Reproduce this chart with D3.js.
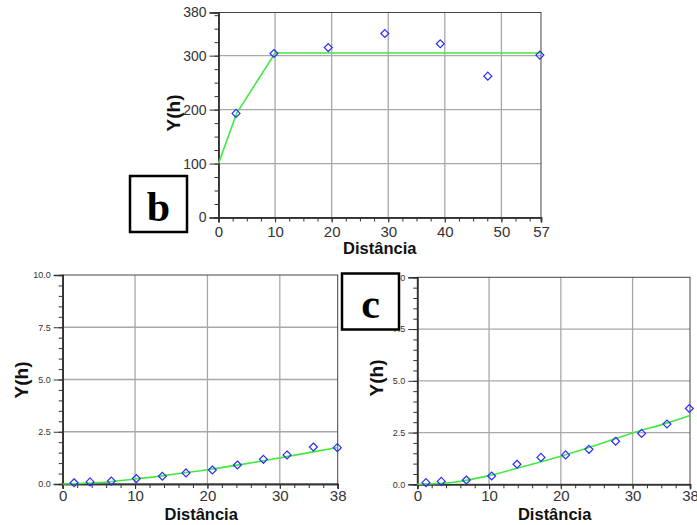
<!DOCTYPE html>
<html>
<head>
<meta charset="utf-8">
<script src="https://cdn.jsdelivr.net/npm/d3@7"></script>
<style>
  body { margin: 0; background: #fff; }
  svg { display: block; }
  .tick text { fill: #333; font-family: Arial, "Liberation Sans", sans-serif; }
</style>
</head>
<body>
<div id="chart"></div>
<script>
// panel b (top)
const distB = [3.1, 9.8, 19.4, 29.4, 39.2, 47.6, 56.8]
const gammaB = [193, 304, 315, 341, 322, 262, 301]
const modelDistB = [0, 3.2, 10, 57]
const modelGammaB = [100, 193, 305, 305]
const xTicksB = [0, 10, 20, 30, 40, 50, 57]
const yTicksB = [0, 100, 200, 300, 380]

// bottom left panel
const distL = [1.57, 3.78, 6.72, 10.18, 13.77, 17.04, 20.68, 24.14, 27.73, 31.0, 34.64, 37.95]
const gammaL = [0.06, 0.10, 0.14, 0.26, 0.37, 0.53, 0.67, 0.91, 1.18, 1.39, 1.77, 1.74]
const modelDistL = [0, 5, 10, 15, 20, 25, 30, 35, 38]
const modelGammaL = [0, 0.07, 0.24, 0.45, 0.68, 0.95, 1.25, 1.56, 1.75]

// bottom right panel (c)
const distC = [1.21, 3.34, 6.83, 10.36, 13.89, 17.23, 20.67, 23.92, 27.64, 31.26, 34.79, 37.91]
const gammaC = [0.08, 0.14, 0.21, 0.40, 0.97, 1.30, 1.42, 1.69, 2.08, 2.46, 2.91, 3.66]
const modelDistC = [0, 5, 10, 15, 20, 25, 30, 35, 38]
const modelGammaC = [0, 0.1, 0.42, 0.88, 1.36, 1.9, 2.48, 2.98, 3.32]

const xTicksBottom = [0, 10, 20, 30, 38]
const yTicksBottom = [0, 2.5, 5, 7.5, 10]

const width = 697
const height = 525

const svg = d3.select('#chart')
  .append('svg')
  .attr('width', width)
  .attr('height', height)

function drawPanel(p) {
  const x = d3.scaleLinear().domain(p.xDomain).range([p.left, p.right])
  const y = d3.scaleLinear().domain(p.yDomain).range([p.bottom, p.top])
  const g = svg.append('g')

  // grid lines
  g.selectAll('.vgrid')
    .data(p.xTicks.filter(d => d > p.xDomain[0] && d < p.xDomain[1]))
    .enter().append('line')
    .attr('x1', d => x(d)).attr('x2', d => x(d))
    .attr('y1', p.top).attr('y2', p.bottom)
    .attr('stroke', '#a8a8a8').attr('stroke-width', 1.3)
  g.selectAll('.hgrid')
    .data(p.yTicks.filter(d => d > p.yDomain[0] && d < p.yDomain[1]))
    .enter().append('line')
    .attr('x1', p.left).attr('x2', p.right)
    .attr('y1', d => y(d)).attr('y2', d => y(d))
    .attr('stroke', '#a8a8a8').attr('stroke-width', 1.3)

  // frame
  g.append('rect')
    .attr('x', p.left).attr('y', p.top)
    .attr('width', p.right - p.left).attr('height', p.bottom - p.top)
    .attr('fill', 'none').attr('stroke', '#444').attr('stroke-width', 1)

  // minor ticks
  g.append('g')
    .attr('transform', 'translate(0,' + p.bottom + ')')
    .call(d3.axisBottom(x).tickValues(d3.range(p.xDomain[0], p.xDomain[1], p.xMinor)).tickSize(4).tickFormat(''))
  g.append('g')
    .attr('transform', 'translate(' + p.left + ',0)')
    .call(d3.axisLeft(y).tickValues(d3.range(p.yDomain[0], p.yDomain[1], p.yMinor)).tickSize(4).tickFormat(''))

  // major ticks
  const xAxis = g.append('g')
    .attr('transform', 'translate(0,' + p.bottom + ')')
    .call(d3.axisBottom(x).tickValues(p.xTicks).tickSize(5).tickPadding(p.xPad).tickFormat(d3.format('d')))
  xAxis.selectAll('text').style('font-size', p.xFont + 'px')

  const yAxis = g.append('g')
    .attr('transform', 'translate(' + p.left + ',0)')
    .call(d3.axisLeft(y).tickValues(p.yTicks).tickSize(9).tickPadding(3).tickFormat(p.yFormat))
  yAxis.selectAll('text').style('font-size', p.yFont + 'px')

  g.selectAll('.domain').attr('stroke', '#333').attr('stroke-width', 1.5)
  g.selectAll('.tick line').attr('stroke', '#333')

  // model curve
  const line = d3.line()
    .x(d => x(d[0]))
    .y(d => y(d[1]))
    .curve(p.curve)
  g.append('path')
    .datum(p.modelX.map((d, i) => [d, p.modelY[i]]))
    .attr('d', line)
    .attr('fill', 'none')
    .attr('stroke', '#44e844')
    .attr('stroke-width', 1.6)

  // experimental points as diamonds
  g.selectAll('.pt')
    .data(p.ptX.map((d, i) => [d, p.ptY[i]]))
    .enter().append('path')
    .attr('d', d3.symbol().type(d3.symbolDiamond2).size(40))
    .attr('transform', d => 'translate(' + x(d[0]) + ',' + y(d[1]) + ')')
    .attr('fill', 'none')
    .attr('stroke', '#2b2bff')
    .attr('stroke-width', 1.2)

  // axis titles
  g.append('text')
    .attr('x', (p.left + p.right) / 2 + p.xTitleDx)
    .attr('y', p.xTitleY)
    .attr('text-anchor', 'middle')
    .attr('font-family', 'Arial, "Liberation Sans", sans-serif')
    .attr('font-weight', 'bold')
    .attr('font-size', 16.5)
    .attr('fill', '#111')
    .text('Distância')

  g.append('text')
    .attr('transform', 'translate(' + p.yTitleX + ',' + p.yTitleY + ') rotate(-90)')
    .attr('text-anchor', 'middle')
    .attr('dominant-baseline', 'central')
    .attr('font-family', 'Arial, "Liberation Sans", sans-serif')
    .attr('font-weight', 'bold')
    .attr('font-size', 19)
    .attr('fill', '#111')
    .text('Y(h)')
}

function labelBox(x0, y0, w, h, letter, baseline) {
  svg.append('rect')
    .attr('x', x0).attr('y', y0)
    .attr('width', w).attr('height', h)
    .attr('fill', '#fff').attr('stroke', '#000').attr('stroke-width', 2.5)
  svg.append('text')
    .attr('x', x0 + w / 2).attr('y', baseline)
    .attr('text-anchor', 'middle')
    .attr('font-family', '"Liberation Serif", "Times New Roman", serif')
    .attr('font-weight', 'bold')
    .attr('font-size', 42)
    .attr('fill', '#000')
    .text(letter)
}

drawPanel({
  left: 218.5, right: 541, top: 12.5, bottom: 217.5,
  xDomain: [0, 57], yDomain: [0, 380],
  xTicks: xTicksB, yTicks: yTicksB, xMinor: 2.5, yMinor: 25,
  yFormat: d3.format('d'), xFont: 15, yFont: 14, xPad: 4,
  modelX: modelDistB, modelY: modelGammaB, curve: d3.curveLinear,
  ptX: distB, ptY: gammaB,
  xTitleDx: 0, xTitleY: 254, yTitleX: 173, yTitleY: 113
})

drawPanel({
  left: 62.7, right: 337.7, top: 275, bottom: 484,
  xDomain: [0, 38], yDomain: [0, 10],
  xTicks: xTicksBottom, yTicks: yTicksBottom, xMinor: 2, yMinor: 0.5,
  yFormat: d3.format('.1f'), xFont: 15, yFont: 9, xPad: 1,
  modelX: modelDistL, modelY: modelGammaL, curve: d3.curveMonotoneX,
  ptX: distL, ptY: gammaL,
  xTitleDx: 1, xTitleY: 520, yTitleX: 21, yTitleY: 380
})

drawPanel({
  left: 417.3, right: 690, top: 277.3, bottom: 484.3,
  xDomain: [0, 38], yDomain: [0, 10],
  xTicks: xTicksBottom, yTicks: yTicksBottom, xMinor: 2, yMinor: 0.5,
  yFormat: d3.format('.1f'), xFont: 15, yFont: 9, xPad: 1,
  modelX: modelDistC, modelY: modelGammaC, curve: d3.curveMonotoneX,
  ptX: distC, ptY: gammaC,
  xTitleDx: 1, xTitleY: 520, yTitleX: 376, yTitleY: 378
})

labelBox(130, 176, 57, 56, 'b', 221)
labelBox(342, 273.5, 57, 56, 'c', 318)
</script>
</body>
</html>
